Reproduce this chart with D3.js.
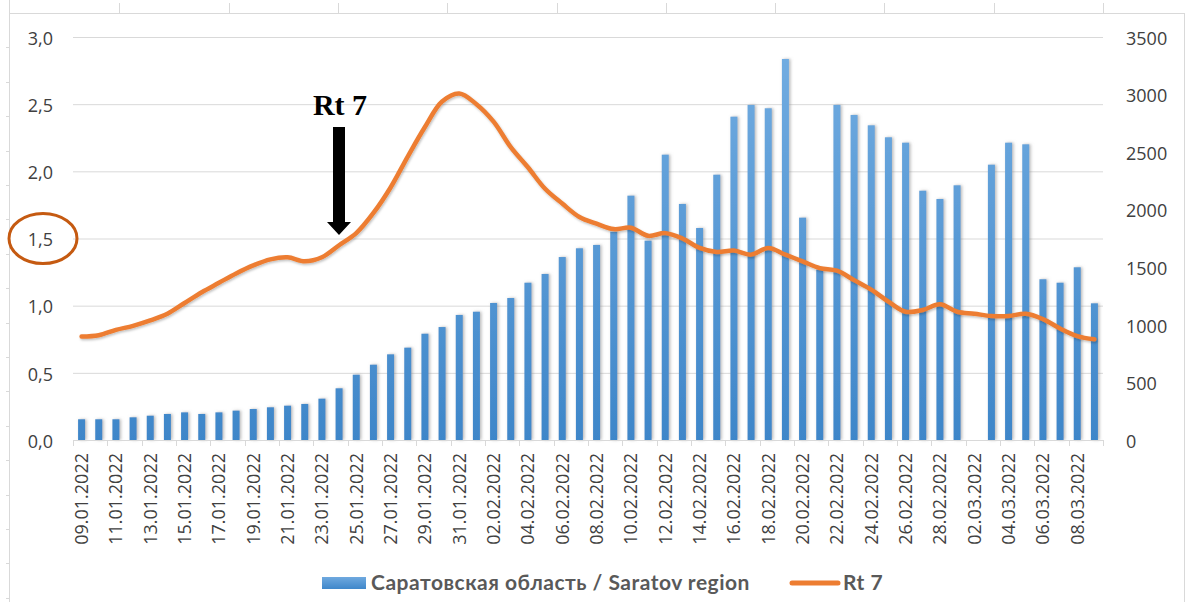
<!DOCTYPE html>
<html>
<head>
<meta charset="utf-8">
<script src="https://cdnjs.cloudflare.com/ajax/libs/d3/7.8.5/d3.min.js"></script>
<style>
  body { margin: 0; background: #fff; }
  svg { display: block; }
</style>
</head>
<body>
<svg id="chart" width="1187" height="602"></svg>
<script>
"use strict";

// categories: daily dates
var dates = [
  "09.01.2022","10.01.2022","11.01.2022","12.01.2022","13.01.2022","14.01.2022","15.01.2022","16.01.2022",
  "17.01.2022","18.01.2022","19.01.2022","20.01.2022","21.01.2022","22.01.2022","23.01.2022","24.01.2022",
  "25.01.2022","26.01.2022","27.01.2022","28.01.2022","29.01.2022","30.01.2022","31.01.2022","01.02.2022",
  "02.02.2022","03.02.2022","04.02.2022","05.02.2022","06.02.2022","07.02.2022","08.02.2022","09.02.2022",
  "10.02.2022","11.02.2022","12.02.2022","13.02.2022","14.02.2022","15.02.2022","16.02.2022","17.02.2022",
  "18.02.2022","19.02.2022","20.02.2022","21.02.2022","22.02.2022","23.02.2022","24.02.2022","25.02.2022",
  "26.02.2022","27.02.2022","28.02.2022","01.03.2022","02.03.2022","03.03.2022","04.03.2022","05.03.2022",
  "06.03.2022","07.03.2022","08.03.2022","09.03.2022"
];

// Саратовская область, daily cases (right axis)
var cases = [
  180, 180, 180, 197, 211, 226, 240, 226, 240, 255, 269, 284, 298, 313, 359, 449,
  567, 654, 744, 802, 923, 981, 1086, 1114, 1190, 1233, 1366, 1442, 1589, 1665, 1694, 1809,
  2122, 1731, 2478, 2050, 1841, 2304, 2808, 2910, 2881, 3309, 1931, 1480, 2910, 2823, 2733, 2629,
  2582, 2165, 2093, 2212, null, 2391, 2582, 2568, 1396, 1366, 1500, 1187
];

// Rt 7 (left axis)
var rt7 = [
  0.77, 0.78, 0.82, 0.85, 0.89, 0.94, 1.02, 1.10, 1.17, 1.24, 1.30, 1.345, 1.36, 1.33, 1.36, 1.45,
  1.54, 1.69, 1.88, 2.11, 2.33, 2.52, 2.58, 2.50, 2.37, 2.18, 2.03, 1.87, 1.76, 1.66, 1.61, 1.57,
  1.58, 1.52, 1.54, 1.50, 1.43, 1.40, 1.41, 1.38, 1.43, 1.38, 1.33, 1.28, 1.26, 1.19, 1.12, 1.03,
  0.955, 0.968, 1.01, 0.955, 0.94, 0.923, 0.923, 0.94, 0.90, 0.83, 0.774, 0.75
];

var leftTicks = [0, 0.5, 1.0, 1.5, 2.0, 2.5, 3.0];
var rightTicks = [0, 500, 1000, 1500, 2000, 2500, 3000, 3500];
var legendNames = ["Саратовская область / Saratov region", "Rt 7"];

var svg = d3.select("#chart");
var plot = { left: 73, right: 1103, top: 37, bottom: 440 };
var grey = "#d9d9d9";
var labelFont = "'Open Sans', 'DejaVu Sans', sans-serif";

var x = d3.scaleBand().domain(dates).range([plot.left, plot.right]);
var yL = d3.scaleLinear().domain([0, 3]).range([plot.bottom, plot.top]);
var yR = d3.scaleLinear().domain([0, 3500]).range([plot.bottom, plot.top]);
var comma = d3.formatLocale({ decimal: ",", thousands: " ", grouping: [3], currency: ["", ""] }).format(".1f");

// defs: bar gradient + soft shadows
var defs = svg.append("defs");
var grad = defs.append("linearGradient").attr("id", "barGrad")
  .attr("gradientUnits", "userSpaceOnUse").attr("x1", 0).attr("x2", 0)
  .attr("y1", plot.top).attr("y2", plot.bottom);
grad.append("stop").attr("offset", "0%").attr("stop-color", "#74aee2");
grad.append("stop").attr("offset", "100%").attr("stop-color", "#3e86c9");
var lg = defs.append("linearGradient").attr("id", "legGrad").attr("x1", 0).attr("x2", 0).attr("y1", 0).attr("y2", 1);
lg.append("stop").attr("offset", "0%").attr("stop-color", "#6fa9df");
lg.append("stop").attr("offset", "100%").attr("stop-color", "#3f87ca");
defs.append("filter").attr("id", "barShadow").attr("x", "-100%").attr("width", "300%")
  .append("feDropShadow").attr("dx", 1.5).attr("dy", 0).attr("stdDeviation", 1.6)
  .attr("flood-color", "#808080").attr("flood-opacity", 0.55);
defs.append("filter").attr("id", "lineShadow")
  .append("feDropShadow").attr("dx", 1).attr("dy", 1.5).attr("stdDeviation", 1.2)
  .attr("flood-color", "#000").attr("flood-opacity", 0.25);

// spreadsheet frame around the pasted chart
var frame = svg.append("g").attr("stroke", grey).attr("stroke-width", 1).attr("fill", "none");
frame.append("line").attr("x1", 10).attr("x2", 1184).attr("y1", 13.5).attr("y2", 13.5);
frame.append("line").attr("x1", 9.5).attr("x2", 9.5).attr("y1", 0).attr("y2", 602);
frame.append("line").attr("x1", 1184.5).attr("x2", 1184.5).attr("y1", 13).attr("y2", 602);
frame.selectAll(".ct").data(d3.range(1, 11)).join("line")
  .attr("x1", function (k) { return Math.round(10 + 109.3 * k) + 0.5; })
  .attr("x2", function (k) { return Math.round(10 + 109.3 * k) + 0.5; })
  .attr("y1", 3).attr("y2", 13);
frame.selectAll(".rt").data(d3.range(1, 18)).join("line")
  .attr("x1", 6).attr("x2", 9)
  .attr("y1", function (k) { return Math.round(13 + 34.4 * k) + 0.5; })
  .attr("y2", function (k) { return Math.round(13 + 34.4 * k) + 0.5; });

// gridlines
svg.append("g")
  .attr("transform", "translate(" + plot.left + ",0)")
  .call(d3.axisLeft(yL).tickValues(leftTicks).tickSize(-(plot.right - plot.left)).tickFormat(""))
  .call(function (g) { g.select(".domain").remove(); })
  .selectAll("line").attr("stroke", grey);

// left axis labels
svg.append("g")
  .attr("transform", "translate(" + (plot.left - 20) + ",0)")
  .call(d3.axisLeft(yL).tickValues(leftTicks).tickSize(0).tickPadding(0).tickFormat(comma))
  .call(function (g) { g.select(".domain").remove(); })
  .selectAll("text")
  .attr("font-family", labelFont).attr("font-size", 18).attr("fill", "#404040").attr("dy", "0.4em");

// right axis labels
svg.append("g")
  .attr("transform", "translate(" + (plot.right + 23) + ",0)")
  .call(d3.axisRight(yR).tickValues(rightTicks).tickSize(0).tickPadding(0).tickFormat(d3.format("d")))
  .call(function (g) { g.select(".domain").remove(); })
  .selectAll("text")
  .attr("font-family", labelFont).attr("font-size", 18).attr("fill", "#404040").attr("dy", "0.4em");

// bars
var barW = 7;
svg.append("g").attr("filter", "url(#barShadow)")
  .selectAll("rect")
  .data(cases.map(function (v, i) { return { d: dates[i], v: v }; }).filter(function (p) { return p.v != null; }))
  .join("rect")
  .attr("x", function (p) { return x(p.d) + x.bandwidth() / 2 - barW / 2; })
  .attr("width", barW)
  .attr("y", function (p) { return yR(p.v); })
  .attr("height", function (p) { return yR(0) - yR(p.v); })
  .attr("fill", "url(#barGrad)");

// x axis line, ticks every second category, labels
var xa = svg.append("g");
xa.append("line").attr("x1", plot.left).attr("x2", plot.right)
  .attr("y1", plot.bottom + 0.5).attr("y2", plot.bottom + 0.5).attr("stroke", grey);
var tickDates = dates.filter(function (d, i) { return i % 2 === 0; });
var tickPos = tickDates.map(function (d) { return x(d); }).concat([plot.right]);
xa.selectAll(".xt").data(tickPos).join("line")
  .attr("x1", function (p) { return Math.round(p) + 0.5; })
  .attr("x2", function (p) { return Math.round(p) + 0.5; })
  .attr("y1", plot.bottom).attr("y2", plot.bottom + 6).attr("stroke", grey);
xa.selectAll("text").data(tickDates).join("text")
  .attr("transform", function (d) { return "translate(" + (x(d) + x.bandwidth() / 2) + "," + (plot.bottom + 13) + ") rotate(-90)"; })
  .attr("text-anchor", "end").attr("dy", "0.36em")
  .attr("font-family", labelFont).attr("font-size", 18).attr("fill", "#404040")
  .text(function (d) { return d; });

// Rt 7 line
var line = d3.line()
  .x(function (v, i) { return x(dates[i]) + x.bandwidth() / 2; })
  .y(function (v) { return yL(v); })
  .curve(d3.curveCatmullRom.alpha(0.5));
svg.append("path").datum(rt7)
  .attr("d", line)
  .attr("fill", "none").attr("stroke", "#ed7d31").attr("stroke-width", 4.5)
  .attr("stroke-linecap", "round").attr("stroke-linejoin", "round")
  .attr("filter", "url(#lineShadow)");

// annotation: "Rt 7" with arrow, ellipse around 1,5
svg.append("text").attr("x", 340).attr("y", 115).attr("text-anchor", "middle")
  .attr("font-family", "'Liberation Serif', 'Times New Roman', serif").attr("font-weight", "bold")
  .attr("font-size", 30).attr("fill", "#000").text("Rt 7");
svg.append("path")
  .attr("d", "M333,127 L345,127 L345,222 L351,222 L339,235 L327,222 L333,222 Z")
  .attr("fill", "#000");
svg.append("ellipse").attr("cx", 43).attr("cy", yL(1.5)).attr("rx", 34).attr("ry", 25)
  .attr("fill", "none").attr("stroke", "#c55a11").attr("stroke-width", 3);

// legend
var leg = svg.append("g").attr("font-family", "Lato, 'Open Sans', sans-serif")
  .attr("font-weight", "bold").attr("font-size", 21).attr("letter-spacing", 0.5).attr("fill", "#595959");
leg.append("rect").attr("x", 322).attr("y", 577).attr("width", 44).attr("height", 12).attr("fill", "url(#legGrad)");
leg.append("text").attr("x", 371).attr("y", 583).attr("dy", "0.35em").text(legendNames[0]);
leg.append("line").attr("x1", 792).attr("x2", 838).attr("y1", 583).attr("y2", 583)
  .attr("stroke", "#ed7d31").attr("stroke-width", 5).attr("stroke-linecap", "round");
leg.append("text").attr("x", 843).attr("y", 583).attr("dy", "0.35em").text(legendNames[1]);
</script>
</body>
</html>
